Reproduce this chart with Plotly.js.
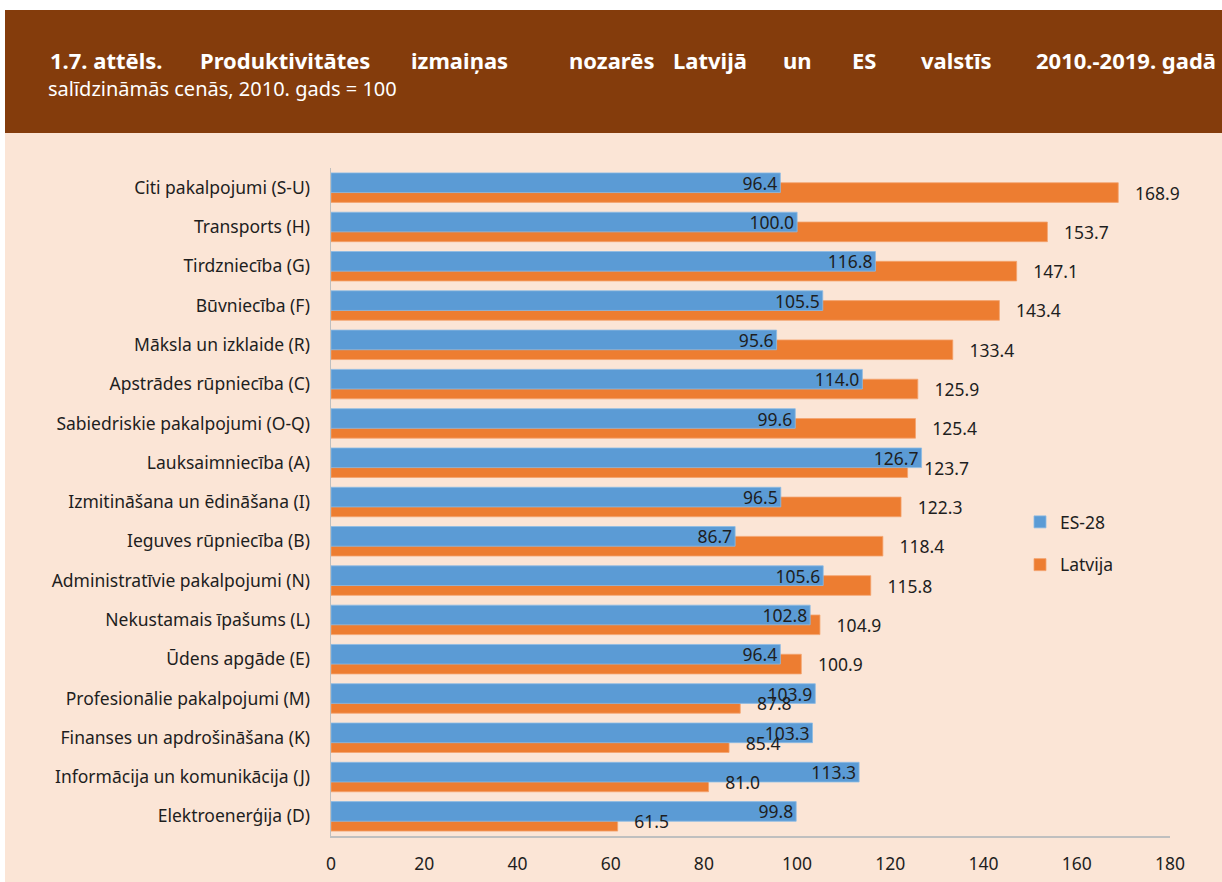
<!DOCTYPE html>
<html><head><meta charset="utf-8">
<script src="https://cdn.plot.ly/plotly-3.0.1.min.js"></script>
<style>html,body{margin:0;padding:0;background:#fff;}#chart{width:1222px;height:882px;}</style>
</head><body><div id="chart"></div>
<script>
const categories = ["Citi pakalpojumi (S-U)", "Transports (H)", "Tirdzniecība (G)", "Būvniecība (F)", "Māksla un izklaide (R)", "Apstrādes rūpniecība (C)", "Sabiedriskie pakalpojumi (O-Q)", "Lauksaimniecība (A)", "Izmitināšana un ēdināšana (I)", "Ieguves rūpniecība (B)", "Administratīvie pakalpojumi (N)", "Nekustamais īpašums (L)", "Ūdens apgāde (E)", "Profesionālie pakalpojumi (M)", "Finanses un apdrošināšana (K)", "Informācija un komunikācija (J)", "Elektroenerģija (D)"];
const es28 = [96.4, 100.0, 116.8, 105.5, 95.6, 114.0, 99.6, 126.7, 96.5, 86.7, 105.6, 102.8, 96.4, 103.9, 103.3, 113.3, 99.8];
const latvija = [168.9, 153.7, 147.1, 143.4, 133.4, 125.9, 125.4, 123.7, 122.3, 118.4, 115.8, 104.9, 100.9, 87.8, 85.4, 81.0, 61.5];
const xTicks = [0, 20, 40, 60, 80, 100, 120, 140, 160, 180];
const titleWords = ["1.7. attēls.", "Produktivitātes", "izmaiņas", "nozarēs", "Latvijā", "un", "ES", "valstīs", "2010.-2019. gadā"];
const subtitle = "salīdzināmās cenās, 2010. gads = 100";
const seriesNames = ["ES-28", "Latvija"];

const W = 1222, H = 882;
const M = {l: 331, r: 52, t: 168, b: 46};
const pw = W - M.l - M.r, ph = H - M.t - M.b;
const px = x => (x - M.l) / pw;
const py = y => (H - M.b - y) / ph;

const FONT = "Noto Sans, Open Sans, sans-serif";
const TXT = "#1e1e1e";
const FS = 17.5;

const traces = [
  {
    type: "bar", orientation: "h", name: seriesNames[1],
    y: categories, x: latvija, width: 0.5, offset: -0.125,
    marker: {color: "#ed7d31", line: {width: 0.8, color: "#f4a36e"}},
    hoverinfo: "skip", legendrank: 2, legendgroup: "b"
  },
  {
    type: "bar", orientation: "h", name: seriesNames[0],
    y: categories, x: es28, width: 0.5, offset: -0.375,
    marker: {color: "#5b9bd5", line: {width: 0.8, color: "#8dbbe5"}},
    texttemplate: "%{x:.1f}", textposition: "inside", insidetextanchor: "end",
    insidetextfont: {family: FONT, size: FS, color: TXT},
    constraintext: "none", cliponaxis: false, hoverinfo: "skip",
    legendrank: 1, legendgroup: "a"
  },
  {
    type: "bar", orientation: "h", name: seriesNames[1] + " labels", showlegend: false,
    y: categories, x: latvija, width: 0.5, offset: -0.125,
    marker: {color: "rgba(0,0,0,0)", line: {width: 0}},
    texttemplate: "\u00a0\u00a0\u00a0%{x:.1f}", textposition: "outside",
    outsidetextfont: {family: FONT, size: FS, color: TXT},
    constraintext: "none", cliponaxis: false, hoverinfo: "skip"
  }
];

const wordPos = [
  {x: 48, a: "left"}, {x: 285, a: "center"}, {x: 459, a: "center"}, {x: 611, a: "center"},
  {x: 710, a: "center"}, {x: 797, a: "center"}, {x: 864, a: "center"}, {x: 956, a: "center"},
  {x: 1218, a: "right"}
];
const annotations = titleWords.map((w, i) => ({
  text: "<b>" + w + "</b>", xref: "paper", yref: "paper",
  x: px(wordPos[i].x), y: py(60), xanchor: wordPos[i].a, yanchor: "middle",
  showarrow: false, font: {family: FONT, size: 22, color: "#ffffff"}
}));
annotations.push({
  text: subtitle, xref: "paper", yref: "paper", x: px(46), y: py(89),
  xanchor: "left", yanchor: "middle", showarrow: false,
  font: {family: FONT, size: 20, color: "#ffffff"}
});

const layout = {
  width: W, height: H, margin: M,
  paper_bgcolor: "#fbe5d6", plot_bgcolor: "#fbe5d6",
  barmode: "overlay", showlegend: true,
  font: {family: FONT, size: FS, color: TXT},
  xaxis: {
    range: [0, 180], tickvals: xTicks, ticktext: xTicks.map(String),
    showgrid: false, zeroline: false, showline: true, linecolor: "#bfbfbf", linewidth: 2,
    ticks: "", ticklabelstandoff: 11, tickfont: {family: FONT, size: FS, color: TXT}, fixedrange: true
  },
  yaxis: {
    type: "category", range: [16.5, -0.5], showgrid: false, zeroline: false,
    showline: true, linecolor: "#bfbfbf", linewidth: 1.5,
    ticks: "", ticklabelstandoff: 16, tickfont: {family: FONT, size: FS, color: TXT}, fixedrange: true
  },
  legend: {
    x: px(1020), y: py(504), xanchor: "left", yanchor: "top",
    bgcolor: "rgba(0,0,0,0)", font: {family: FONT, size: FS, color: TXT},
    traceorder: "grouped", tracegroupgap: 17
  },
  shapes: [
    {type: "rect", xref: "paper", yref: "paper", x0: px(0), x1: px(W), y0: py(0), y1: py(10), fillcolor: "#ffffff", line: {width: 0}, layer: "below"},
    {type: "rect", xref: "paper", yref: "paper", x0: px(0), x1: px(5), y0: py(0), y1: py(H), fillcolor: "#ffffff", line: {width: 0}, layer: "below"},
    {type: "rect", xref: "paper", yref: "paper", x0: px(5), x1: px(W), y0: py(10), y1: py(133), fillcolor: "#843c0c", line: {width: 0}, layer: "below"}
  ],
  annotations: annotations
};

Plotly.newPlot("chart", traces, layout, {displayModeBar: false, staticPlot: true});
</script></body></html>
